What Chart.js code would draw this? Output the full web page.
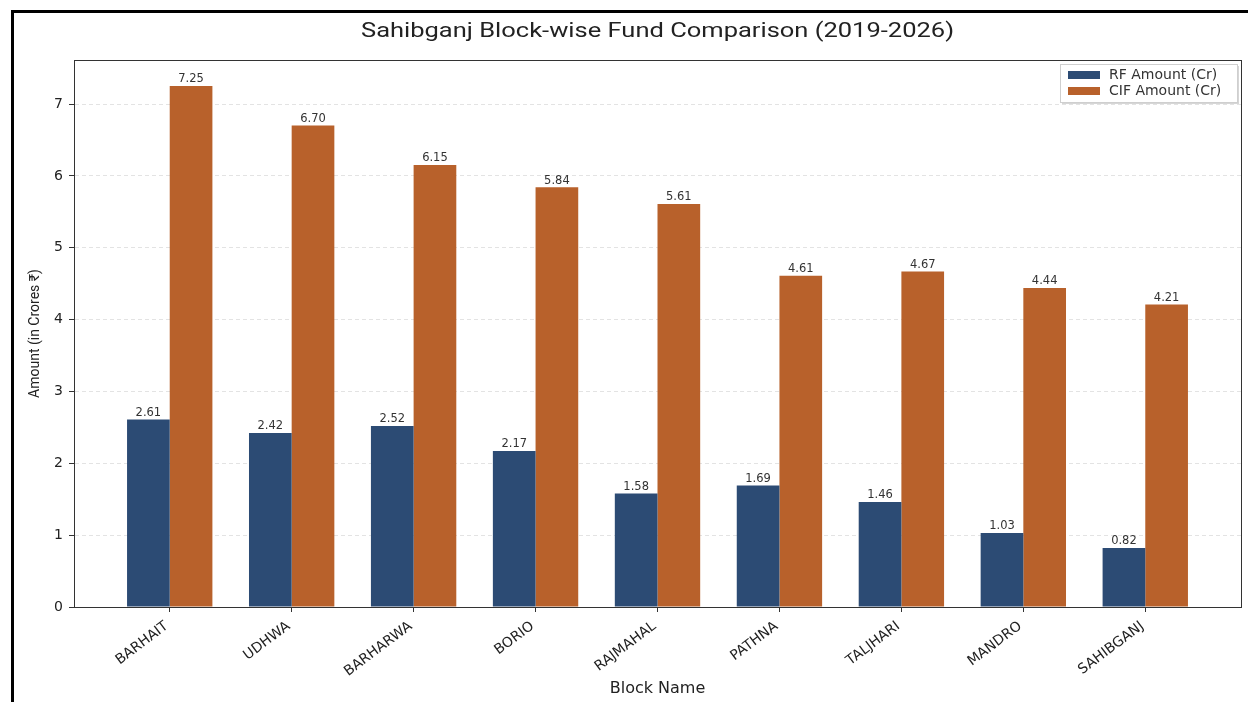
<!DOCTYPE html>
<html>
<head>
<meta charset="utf-8">
<script src="https://cdn.jsdelivr.net/npm/chart.js@4.4.1/dist/chart.umd.min.js"></script>
<style>
  html, body { margin: 0; padding: 0; background: #fff; }
  #wrap { position: relative; width: 1248px; height: 702px; overflow: hidden; }
  canvas { display: block; }
  #frame { position: absolute; left: 11px; top: 10px; right: -10px; bottom: -10px;
           border-top: 3px solid #000; border-left: 3px solid #000; pointer-events: none; }
</style>
</head>
<body>
<div id="wrap">
  <canvas id="c" width="1248" height="702"></canvas>
  <div id="frame"></div>
</div>
<script>
const blocks = ["BARHAIT", "UDHWA", "BARHARWA", "BORIO", "RAJMAHAL", "PATHNA", "TALJHARI", "MANDRO", "SAHIBGANJ"];
const rfAmount = [2.61, 2.42, 2.52, 2.17, 1.58, 1.69, 1.46, 1.03, 0.82];
const cifAmount = [7.25, 6.70, 6.15, 5.84, 5.61, 4.61, 4.67, 4.44, 4.21];
const yTickValues = [0, 1, 2, 3, 4, 5, 6, 7];
const seriesNames = ["RF Amount (Cr)", "CIF Amount (Cr)"];
const chartTitle = 'Sahibganj Block-wise Fund Comparison (2019-2026)';

const BLUE = '#2c4b74';
const ORANGE = '#b8612b';
const WIDE = '"DejaVu Sans", sans-serif';

const valueLabels = {
  id: 'valueLabels',
  afterDatasetsDraw(chart) {
    const ctx = chart.ctx;
    ctx.save();
    ctx.font = '11.5px ' + WIDE;
    ctx.fillStyle = '#333';
    ctx.textAlign = 'center';
    ctx.textBaseline = 'bottom';
    chart.data.datasets.forEach((ds, di) => {
      const meta = chart.getDatasetMeta(di);
      meta.data.forEach((bar, i) => {
        ctx.fillText(ds.data[i].y.toFixed(2), bar.x, bar.y - 1);
      });
    });
    ctx.restore();
  }
};

const frameAndLegend = {
  id: 'frameAndLegend',
  afterDraw(chart) {
    const ctx = chart.ctx;
    const a = chart.chartArea;
    ctx.save();
    ctx.strokeStyle = '#333';
    ctx.lineWidth = 1;
    ctx.strokeRect(Math.round(a.left) + 0.5, Math.round(a.top) + 0.5,
                   Math.round(a.right - a.left), Math.round(a.bottom - a.top));
    // title (stretched horizontally like the reference)
    ctx.font = '20px Roboto, sans-serif';
    ctx.fillStyle = '#222';
    ctx.textAlign = 'center';
    ctx.textBaseline = 'middle';
    const w = ctx.measureText(chartTitle).width;
    ctx.save();
    ctx.translate((a.left + a.right) / 2, 32);
    ctx.scale(593 / w, 1);
    ctx.fillText(chartTitle, 0, 0);
    ctx.restore();
    // legend
    const bx = 1060, by = a.top + 4, bw = 177, bh = 38;
    ctx.fillStyle = 'rgba(0,0,0,0.16)';
    ctx.fillRect(bx + 2, by + 2, bw, bh);
    ctx.fillStyle = '#fff';
    ctx.fillRect(bx, by, bw, bh);
    ctx.strokeStyle = '#cfcfcf';
    ctx.strokeRect(bx + 0.5, by + 0.5, bw, bh);
    ctx.font = '14px ' + WIDE;
    ctx.textBaseline = 'middle';
    ctx.textAlign = 'left';
    chart.data.datasets.forEach((ds, di) => {
      const cy = by + 11 + di * 16;
      ctx.fillStyle = ds.backgroundColor;
      ctx.fillRect(bx + 8, cy - 4, 32, 8);
      ctx.fillStyle = '#333';
      ctx.fillText(ds.label, bx + 49, cy);
    });
    ctx.restore();
  }
};

new Chart(document.getElementById('c'), {
  type: 'bar',
  data: {
    datasets: [
      { label: seriesNames[0], data: rfAmount.map((v, i) => ({ x: i, y: v })), backgroundColor: BLUE },
      { label: seriesNames[1], data: cifAmount.map((v, i) => ({ x: i, y: v })), backgroundColor: ORANGE }
    ]
  },
  options: {
    responsive: false,
    animation: false,
    devicePixelRatio: 1,
    layout: { padding: { top: 60, left: 23, right: 7, bottom: 0 } },
    datasets: { bar: { categoryPercentage: 0.7, barPercentage: 1.0 } },
    plugins: {
      legend: { display: false },
      tooltip: { enabled: false },
      title: { display: false }
    },
    scales: {
      x: {
        type: 'linear',
        offset: false,
        min: -0.785,
        max: 8.785,
        afterBuildTicks(scale) { scale.ticks = blocks.map((b, i) => ({ value: i })); },
        afterFit(scale) { scale.height = 95; },
        ticks: {
          autoSkip: false,
          minRotation: 37,
          maxRotation: 37,
          padding: 6,
          labelOffset: -3,
          color: '#222',
          font: { family: WIDE, size: 14 },
          callback: (v) => blocks[v]
        },
        grid: { offset: false, drawOnChartArea: false, drawTicks: true, tickLength: 5, tickColor: '#333' },
        border: { display: true, color: '#333', width: 1 },
        title: {
          display: true,
          text: 'Block Name',
          color: '#222',
          font: { family: WIDE, size: 16 },
          padding: { top: 4, bottom: 4 }
        }
      },
      y: {
        min: 0,
        max: 7.6125,
        afterBuildTicks(scale) { scale.ticks = yTickValues.map(v => ({ value: v })); },
        afterFit(scale) { scale.width = 51; },
        ticks: {
          padding: 6,
          color: '#222',
          font: { family: WIDE, size: 14 }
        },
        grid: { color: '#e3e3e3', lineWidth: 1, tickLength: 5, tickColor: '#333' },
        border: { display: true, color: '#333', width: 1, dash: [4, 3] },
        title: {
          display: true,
          text: 'Amount (in Crores ₹)',
          color: '#222',
          font: { family: 'Roboto, sans-serif', size: 14 },
          padding: { top: 4, bottom: 4 }
        }
      }
    }
  },
  plugins: [valueLabels, frameAndLegend]
});
</script>
</body>
</html>
